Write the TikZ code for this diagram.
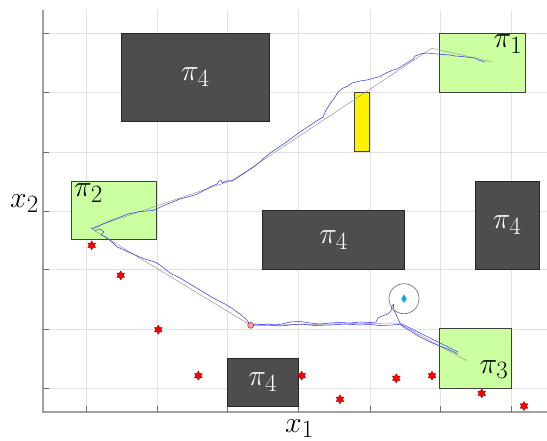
\documentclass[tikz,border=0pt]{standalone}
\usepackage{graphicx}
\usetikzlibrary{shapes.geometric}
\definecolor{regiongreen}{RGB}{204,255,160}
\definecolor{obstgray}{RGB}{77,77,77}
\definecolor{trajblue}{RGB}{60,60,255}
\definecolor{refgray}{RGB}{150,150,150}
\definecolor{gridgray}{RGB}{226,226,226}
\definecolor{axisgray}{RGB}{160,160,160}
\newcommand{\plbl}[1]{\scalebox{1.2}{\Huge$#1$}}

\begin{document}
\begin{tikzpicture}[
  x=1pt,y=-1pt,
  gridline/.style={draw=gridgray,line width=0.6pt},
  axisline/.style={draw=axisgray,line width=1.4pt},
  tickline/.style={draw=axisgray!70!black,line width=0.6pt},
  obst/.style={rectangle,draw=black!85,fill=obstgray,line width=0.8pt,
    inner sep=0pt,anchor=north west,text=white},
  region/.style={rectangle,draw=black!75,fill=regiongreen,line width=0.8pt,
    inner sep=0pt,anchor=north west},
  regionlbl/.style={inner sep=0pt},
  starmark/.style={star,star points=6,star point ratio=1.7,minimum size=9pt,
    inner sep=0pt,fill=red,draw=red!50!black,line width=0.3pt},
  traj/.style={draw=trajblue,line width=0.55pt,line join=round},
  refpath/.style={draw=refgray,line width=0.5pt}
]
\useasboundingbox (0,0) rectangle (547,440);

% grid and axes
\foreach \gx in {86,157,227,298,370,440,511}
  \draw[gridline] (\gx,10) -- (\gx,412);
\foreach \gy in {33,92,152,211,269,329,388}
  \draw[gridline] (43,\gy) -- (547,\gy);
\draw[axisline] (43,10) -- (43,412) -- (547,412);
\foreach \gx in {86,157,227,298,370,440,511}
  \draw[tickline] (\gx,412) -- (\gx,406);
\foreach \gy in {33,92,152,211,269,329,388}
  \draw[tickline] (43,\gy) -- (49,\gy);

% obstacles
\node[obst,minimum width=148.6pt,minimum height=88.6pt] (obsA) at (120.7,32.7) {\plbl{\pi_4}};
\node[obst,minimum width=141.7pt,minimum height=59.3pt] (obsB) at (262.3,210) {\plbl{\pi_4}};
\node[obst,minimum width=64pt,minimum height=88.6pt] (obsC) at (474.7,180.7) {\plbl{\pi_4}};
\node[obst,minimum width=70.7pt,minimum height=47.7pt] (obsD) at (227,358) {\plbl{\pi_4}};
\node[rectangle,draw=black!75,fill=yellow,line width=0.8pt,inner sep=0pt,anchor=north west,
  minimum width=14.4pt,minimum height=59pt] (goal) at (354.3,92) {};

% target regions
\node[region,minimum width=85.4pt,minimum height=59pt] (pi1) at (439.3,32.7) {};
\node[region,minimum width=85pt,minimum height=58.6pt] (pi2) at (71,180.7) {};
\node[region,minimum width=71.4pt,minimum height=60pt] (pi3) at (439.3,328.3) {};
\node[regionlbl,anchor=base east] (lbl1) at ([shift={(-3pt,-15pt)}]pi1.north east) {\plbl{\pi_1}};
\node[regionlbl,anchor=base west] (lbl2) at ([shift={(3pt,-16pt)}]pi2.north west) {\plbl{\pi_2}};
\node[regionlbl,anchor=base east] (lbl3) at ([shift={(-3pt,16pt)}]pi3.south east) {\plbl{\pi_3}};

% reference paths
\draw[refpath] (90.7,228.3) -- (233,180) -- (431.7,48.3) -- (491.7,61.7);
\draw[refpath] (90.7,228.3) -- (250.7,325.3) -- (398,323) -- (466.7,360.7);

% trajectories
\draw[traj] (92,229) -- (97,227) -- (105,223) -- (115,219) -- (128,214) -- (140,211.5)
  -- (153,210.5) -- (165,205) -- (180,199) -- (195,195) -- (205,190) -- (212,186)
  -- (217,184) -- (219,181) -- (221,180.5) -- (223,183) -- (226,181) -- (232,181)
  -- (240,176) -- (255,166) -- (270,153) -- (285,143) -- (300,132) -- (315,122)
  -- (323,117) -- (326,110) -- (330,104) -- (335,97) -- (338,92) -- (343,88)
  -- (348,86) -- (352,83) -- (360,81) -- (367,80) -- (374,78) -- (380,76.5)
  -- (386,73) -- (393,70) -- (397,69) -- (402,66) -- (407,63) -- (410,61)
  -- (413,59.5) -- (415,56) -- (418,55) -- (422,53.5) -- (427,53) -- (432,53.5)
  -- (437,54) -- (443,54.5) -- (450,55) -- (455,56) -- (462,56.5) -- (470,57.5)
  -- (475,58) -- (478,60) -- (480,60.5) -- (483,61.5) -- (485,62);
\draw[traj] (95,230.5) -- (100,229) -- (104,232) -- (101,235) -- (106,237) -- (112,242)
  -- (117,247) -- (122,249) -- (127,251.5) -- (135,255) -- (145,259) -- (155,262)
  -- (160,265) -- (165,269) -- (170,273) -- (180,278) -- (190,284) -- (200,290)
  -- (215,299) -- (225,304) -- (233,309) -- (240,314) -- (246,319) -- (250.7,325.3)
  -- (255,324) -- (262,324.5) -- (268,324) -- (275,325) -- (282,324) -- (290,322)
  -- (300,321.5) -- (310,323) -- (320,324) -- (330,323) -- (340,322.5) -- (350,323)
  -- (360,322) -- (370,322.5) -- (376,322) -- (378,318) -- (382,316) -- (388,314)
  -- (391,311) -- (392,306) -- (394,304) -- (393,309) -- (396,314) -- (398,319)
  -- (401,325) -- (405,328) -- (412,332) -- (420,337) -- (428,341) -- (436,344.5)
  -- (445,348) -- (452,351) -- (458,354);
\draw[traj] (458,352) -- (448,347) -- (440,343) -- (430,338) -- (420,333) -- (410,328)
  -- (402,324) -- (392,325) -- (380,325.5) -- (370,324.5) -- (360,325) -- (345,324)
  -- (330,325) -- (315,325.5) -- (300,324) -- (290,325) -- (280,326) -- (268,325)
  -- (258,325) -- (250.7,325.3);

% start marker and target
\node[circle,fill=red!35,draw=red!60!black,line width=0.4pt,minimum size=6pt,inner sep=0pt] (start) at (250.7,325.3) {};
\node[circle,draw=refgray!80!black,line width=0.7pt,minimum size=30pt,inner sep=0pt] (range) at (404,298.7) {};
\node[diamond,fill=cyan,draw=cyan!80!black,line width=0.3pt,minimum width=5pt,minimum height=8pt,inner sep=0pt] (target) at (range.center) {};

% obstacles of the second kind
\foreach \sx/\sy [count=\i] in {91.7/245.3,120.7/275.3,158.3/329.7,198.3/375.7,301.7/375.7,
  340/399.3,396.3/378.3,432/375.7,481.7/393.3,524/406}
  \node[starmark] (star\i) at (\sx,\sy) {};

% axis labels
\node[inner sep=0pt,anchor=base west] (xlab) at (285,432) {\plbl{x_1}};
\node[inner sep=0pt,anchor=base west] (ylab) at (10,207) {\plbl{x_2}};
\end{tikzpicture}
\end{document}
